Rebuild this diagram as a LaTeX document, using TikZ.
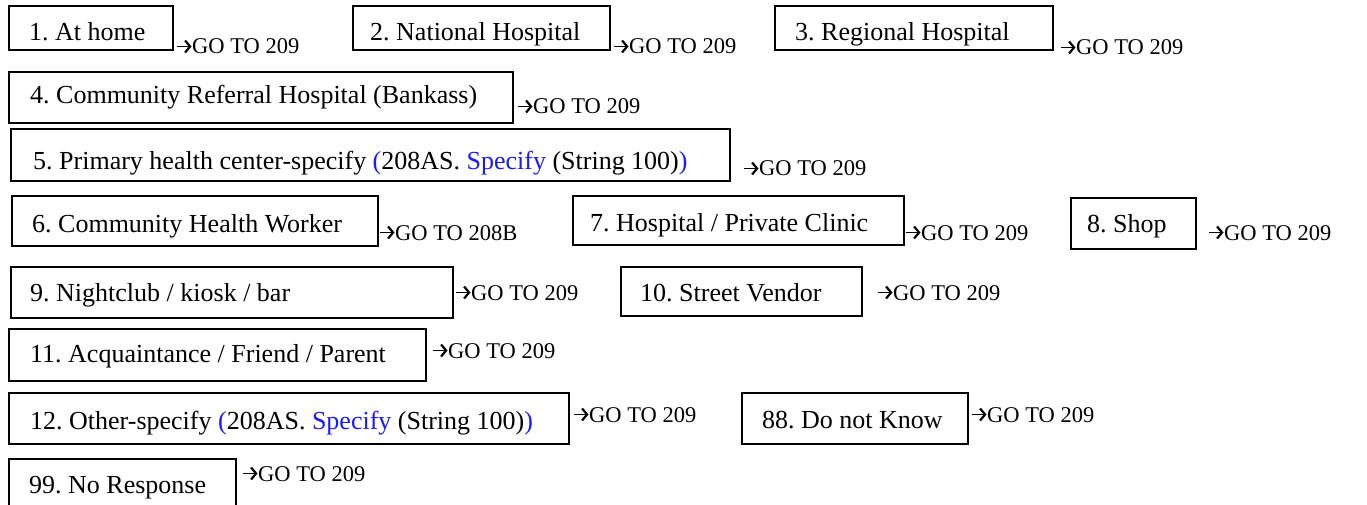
\documentclass[tikz,border=0pt]{standalone}
\usepackage{fontspec}
\setmainfont{Liberation Serif}
\usetikzlibrary{arrows.meta}
\definecolor{specblue}{RGB}{26,26,255}
\frenchspacing

% answer option box: name, left, top, width, height, text x, text baseline, text
\newcommand\optionbox[8]{%
  \node[optbox, minimum width=#4pt, minimum height=#5pt] (#1) at (#2,#3) {};
  \node[opttext] (#1-t) at (#6,#7) {#8};
}
% skip instruction beside a box: name, x, baseline, target
\newcommand\skipto[4]{%
  \node[gototext] (#1) at (#2+15,#3) {GO TO #4};
  \draw[skiparrow] ([shift={(-15,-7.5)}]#1.base west) -- ([shift={(-0.5,-7.5)}]#1.base west);
}
\newcommand\spec[1]{\textcolor{specblue}{#1}}

\begin{document}
\begin{tikzpicture}[x=1pt, y=-1pt,
  optbox/.style={draw, line width=1.7pt, inner sep=0pt, anchor=north west},
  opttext/.style={anchor=base west, inner sep=0pt, font=\fontsize{26}{30}\selectfont},
  gototext/.style={anchor=base west, inner sep=0pt, font=\fontsize{22.5}{26}\selectfont},
  skiparrow/.style={line width=1.8pt, -{Straight Barb[length=5pt, width=12pt, line width=2.2pt]}}]
\useasboundingbox (0,0) rectangle (1367,505);
\clip (0,0) rectangle (1367,505);

% row 1
\optionbox{o1}{8}{5}{164}{44}{29}{41}{1. At home}
\skipto{s1}{177}{54}{209}
\optionbox{o2}{352}{5}{257}{44}{370}{41}{2. National Hospital}
\skipto{s2}{614}{54}{209}
\optionbox{o3}{774}{5}{278}{44}{795}{41}{3. Regional Hospital}
\skipto{s3}{1061}{55}{209}

% row 2
\optionbox{o4}{8}{71}{504}{51}{30}{104}{4. Community Referral Hospital (Bankass)}
\skipto{s4}{518}{114}{209}

% row 3
\optionbox{o5}{10}{128}{719}{52}{33}{170}{5. Primary health center-specify \spec{(}208AS. \spec{Specify} (String 100)\spec{)}}
\skipto{s5}{744}{176}{209}

% row 4
\optionbox{o6}{11}{195}{366}{50}{32}{232}{6. Community Health Worker}
\skipto{s6}{380}{240}{208B}
\optionbox{o7}{572}{195}{331}{49}{590}{231}{7. Hospital / Private Clinic}
\skipto{s7}{906}{240}{209}
\optionbox{o8}{1070}{197}{125}{51}{1087}{232}{8. Shop}
\skipto{s8}{1209}{240}{209}

% row 5
\optionbox{o9}{10}{266}{442}{51}{30}{301}{9. Nightclub / kiosk / bar}
\skipto{s9}{456}{300}{209}
\optionbox{o10}{620}{266}{241}{49}{640}{301}{10. Street Vendor}
\skipto{s10}{878}{300}{209}

% row 6
\optionbox{o11}{8}{328}{417}{52}{30}{362}{11. Acquaintance / Friend / Parent}
\skipto{s11}{433}{358}{209}

% row 7
\optionbox{o12}{8}{392}{560}{51}{30}{429}{12. Other-specify \spec{(}208AS. \spec{Specify} (String 100)\spec{)}}
\skipto{s12}{574}{422}{209}
\optionbox{o88}{741}{392}{226}{51}{762}{428}{88. Do not Know}
\skipto{s88}{972}{422}{209}

% row 8
\optionbox{o99}{8}{458}{227}{60}{29}{493}{99. No Response}
\skipto{s99}{243}{481}{209}
\end{tikzpicture}
\end{document}
